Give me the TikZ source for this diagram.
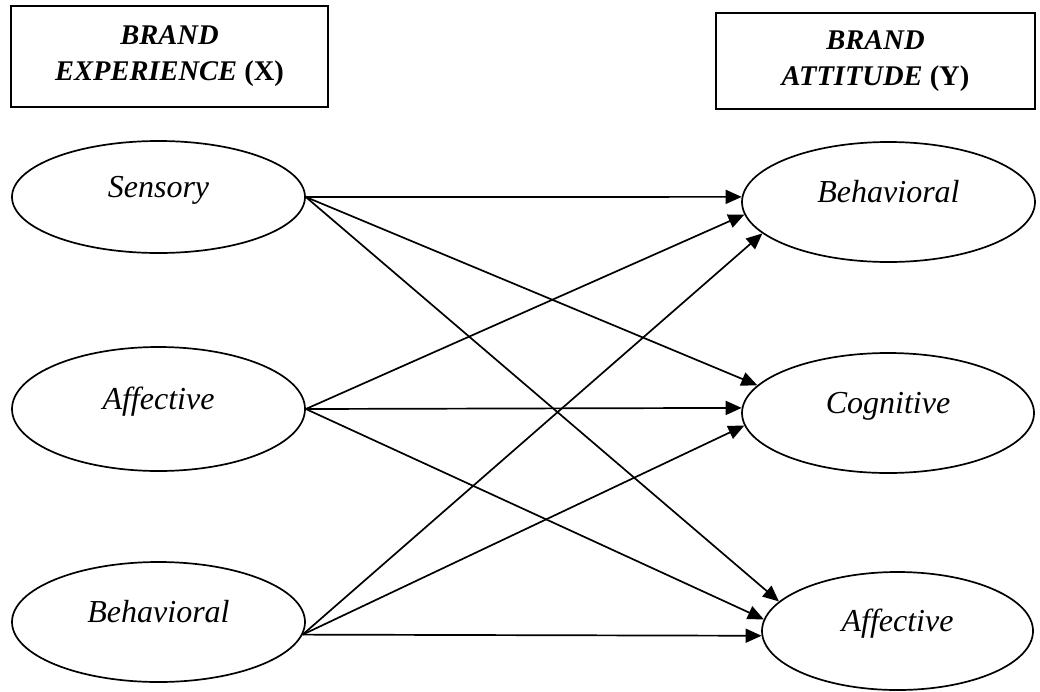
\documentclass[tikz,border=0pt]{standalone}
\usepackage{fontspec}
\setmainfont{Liberation Serif}
\usetikzlibrary{shapes.geometric,arrows.meta}
\begin{document}
\begin{tikzpicture}[x=1pt,y=-1pt,
  hbox/.style={draw, line width=1.6pt, rectangle, inner sep=0pt, align=center,
    font=\fontsize{28.5}{36}\selectfont\bfseries},
  oval/.style={draw, line width=1.7pt, ellipse, inner sep=0pt,
    text height=22pt, text depth=22pt,
    font=\fontsize{32}{38}\selectfont\itshape},
  link/.style={line width=1.7pt, -{Triangle[length=16pt,width=14pt]}}]
\useasboundingbox (0,0) rectangle (1040,691);

% heading boxes
\node[hbox, minimum width=317pt, minimum height=101pt] (hx) at (169.5,56.5)
  {\textit{BRAND}\\\textit{EXPERIENCE} (X)};
\node[hbox, minimum width=319pt, minimum height=96pt] (hy) at (875.5,61)
  {\textit{BRAND}\\\textit{ATTITUDE} (Y)};

% left ellipses
\node[oval, minimum width=293pt, minimum height=112pt] (s) at (158.5,197) {Sensory};
\node[oval, minimum width=293pt, minimum height=124pt] (a) at (158.5,409) {Affective};
\node[oval, minimum width=293pt, minimum height=120pt] (bl) at (158.5,622) {Behavioral};

% right ellipses
\node[oval, minimum width=293pt, minimum height=120pt] (b2) at (888.5,202) {Behavioral};
\node[oval, minimum width=292pt, minimum height=120pt] (c2) at (888,413) {Cognitive};
\node[oval, minimum width=271pt, minimum height=118pt] (a2) at (897.5,631) {Affective};

% connectors
\draw[link] (s.east) -- (b2.178);
\draw[link] (s.east) -- (c2.168);
\draw[link] (s.east) -- (a2.166);

\draw[link] (a.east) -- (b2.185.5);
\draw[link] (a.east) -- (c2.178);
\draw[link] (a.east) -- (a2.175);

\draw[link] (bl.-5) -- (b2.194);
\draw[link] (bl.-5) -- (c2.185);
\draw[link] (bl.-5) -- (a2.182.5);
\end{tikzpicture}
\end{document}
